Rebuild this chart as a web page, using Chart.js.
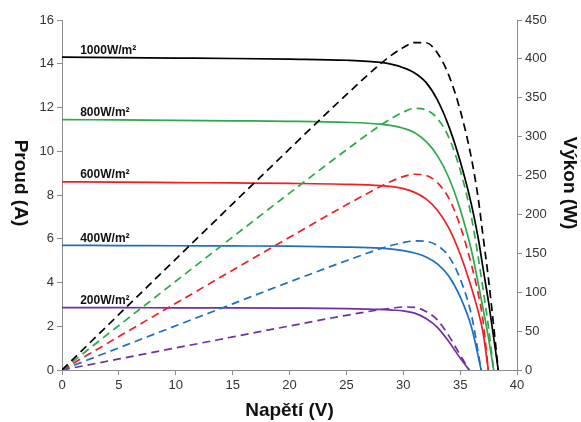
<!DOCTYPE html>
<html>
<head>
<meta charset="utf-8">
<script src="https://cdn.jsdelivr.net/npm/chart.js@4.4.0/dist/chart.umd.min.js"></script>
<style>
  body { margin: 0; background: #fff; }
  #wrap { width: 581px; height: 422px; }
</style>
</head>
<body>
<div id="wrap"><canvas id="pvChart" width="581" height="422"></canvas></div>
<script>
// hodnoty
const irradiance = ['1000W/m²', '800W/m²', '600W/m²', '400W/m²', '200W/m²'];

const v1000 = [0, 5, 10, 15, 20, 25, 28, 29, 30, 31, 32, 33, 34, 35, 36, 36.6, 37, 37.5, 38, 38.35];
const i1000 = [14.30, 14.28, 14.26, 14.24, 14.21, 14.16, 14.06, 13.97, 13.82, 13.58, 13.15, 12.35, 11.15, 9.55, 7.55, 6.0, 4.7, 3.1, 1.3, 0];
const p1000 = [0, 71.4, 142.6, 213.6, 284.2, 354, 393.7, 405.1, 414.6, 421, 420.8, 407.6, 379.1, 334.3, 271.8, 219.6, 173.9, 116.3, 49.4, 0];

const v800 = [0, 5, 10, 15, 20, 25, 28, 29, 30, 31, 32, 33, 34, 35, 36, 37, 37.5, 37.95];
const i800 = [11.45, 11.43, 11.41, 11.39, 11.37, 11.32, 11.24, 11.17, 11.05, 10.85, 10.45, 9.8, 8.8, 7.35, 5.45, 2.85, 1.45, 0];
const p800 = [0, 57.2, 114.1, 170.9, 227.4, 283, 314.7, 323.9, 331.5, 336.4, 334.4, 323.4, 299.2, 257.3, 196.2, 105.5, 54.4, 0];

const v600 = [0, 5, 10, 15, 20, 25, 28, 29, 30, 31, 32, 33, 34, 35, 36, 36.5, 37, 37.48];
const i600 = [8.60, 8.59, 8.57, 8.55, 8.53, 8.49, 8.43, 8.38, 8.29, 8.12, 7.82, 7.30, 6.50, 5.30, 3.75, 2.85, 1.75, 0];
const p600 = [0, 43, 85.7, 128.3, 170.6, 212.3, 236, 243, 248.7, 251.7, 250.2, 240.9, 221, 185.5, 135, 104, 64.8, 0];

const v400 = [0, 5, 10, 15, 20, 25, 28, 29, 30, 31, 32, 33, 34, 35, 36, 36.85];
const i400 = [5.70, 5.69, 5.68, 5.67, 5.66, 5.62, 5.57, 5.53, 5.46, 5.35, 5.17, 4.85, 4.30, 3.35, 1.95, 0];
const p400 = [0, 28.5, 56.8, 85, 113.2, 140.5, 156, 160.4, 163.8, 165.9, 165.4, 160, 146.2, 117.3, 70.2, 0];

const v200 = [0, 5, 10, 15, 20, 25, 28, 29, 30, 31, 32, 33, 34, 35, 35.8];
const i200 = [2.85, 2.85, 2.84, 2.84, 2.83, 2.81, 2.77, 2.74, 2.70, 2.60, 2.35, 1.95, 1.30, 0.55, 0];
const p200 = [0, 14.2, 28.4, 42.5, 56.6, 70.3, 77.6, 79.5, 81, 80.6, 75.2, 64.4, 44.2, 19.3, 0];

const xTicks = [0, 5, 10, 15, 20, 25, 30, 35, 40];

const volts = [v1000, v800, v600, v400, v200];
const currents = [i1000, i800, i600, i400, i200];
const powers = [p1000, p800, p600, p400, p200];
const colors = ['#000000', '#2ea84a', '#f01e23', '#1c6fc0', '#7030a0'];

const toPoints = (xs, ys) => xs.map((x, k) => ({ x: x, y: ys[k] }));

const datasets = [];
// výkon - čárkovaně
powers.forEach((p, k) => {
    datasets.push({
        data: toPoints(volts[k], p),
        yAxisID: 'y1',
        borderColor: colors[k],
        borderWidth: 1.7,
        borderDash: [8, 5],
        pointRadius: 0,
        cubicInterpolationMode: 'monotone',
        fill: false
    });
});
// proud - plná čára
currents.forEach((c, k) => {
    datasets.push({
        data: toPoints(volts[k], c),
        yAxisID: 'y',
        borderColor: colors[k],
        borderWidth: 1.7,
        pointRadius: 0,
        cubicInterpolationMode: 'monotone',
        fill: false
    });
});

const fontFam = '"Liberation Sans", Arial, sans-serif';

// popisky ozáření nad křivkami proudu + svislé názvy os (otočené po směru hodin)
const extraText = {
    id: 'extraText',
    afterDraw(chart) {
        const ctx = chart.ctx;
        const xs = chart.scales.x;
        const ys = chart.scales.y;
        const y1 = chart.scales.y1;
        ctx.save();
        ctx.font = 'bold 12px ' + fontFam;
        ctx.fillStyle = '#111';
        ctx.textAlign = 'left';
        ctx.textBaseline = 'bottom';
        irradiance.forEach((txt, k) => {
            ctx.fillText(txt, xs.getPixelForValue(1.6), ys.getPixelForValue(currents[k][0]) - 1);
        });
        ctx.restore();

        const midY = ys.getPixelForValue(8.55);
        const vTitle = (text, cx) => {
            ctx.save();
            ctx.translate(cx, midY);
            ctx.rotate(Math.PI / 2);
            ctx.font = 'bold 19px ' + fontFam;
            ctx.fillStyle = '#111';
            ctx.textAlign = 'center';
            ctx.textBaseline = 'middle';
            ctx.fillText(text, 0, 0);
            ctx.restore();
        };
        vTitle('Proud (A)', ys.left + 20);
        vTitle('Výkon (W)', y1.right - 12);
    }
};

const tickFont = { family: fontFam, size: 13 };
const titleFont = { family: fontFam, size: 19, weight: 'bold' };

new Chart(document.getElementById('pvChart'), {
    type: 'line',
    data: { datasets: datasets },
    options: {
        responsive: false,
        animation: false,
        layout: { padding: { top: 20, left: 0, right: 0, bottom: 0 } },
        plugins: { legend: { display: false }, tooltip: { enabled: false } },
        scales: {
            x: {
                type: 'linear',
                min: 0, max: 40,
                afterBuildTicks: s => { s.ticks = xTicks.map(v => ({ value: v })); },
                ticks: { font: tickFont, color: '#333', padding: 3 },
                grid: { drawOnChartArea: false, tickLength: 5, color: '#8c8c8c' },
                border: { color: '#8c8c8c' },
                title: { display: true, text: 'Napětí (V)', font: titleFont, color: '#111', padding: { top: 0, bottom: 0 } },
                afterFit: s => { s.height = 52; }
            },
            y: {
                position: 'left',
                min: 0, max: 16,
                ticks: { stepSize: 2, font: tickFont, color: '#333', padding: 3 },
                grid: { drawOnChartArea: false, tickLength: 5, color: '#8c8c8c' },
                border: { color: '#8c8c8c' },
                afterFit: s => { s.width = 62; }
            },
            y1: {
                position: 'right',
                min: 0, max: 450,
                ticks: { stepSize: 50, font: tickFont, color: '#333', padding: 3 },
                grid: { drawOnChartArea: false, tickLength: 5, color: '#8c8c8c' },
                border: { color: '#8c8c8c' },
                afterFit: s => { s.width = 64; }
            }
        }
    },
    plugins: [extraText]
});
</script>
</body>
</html>
